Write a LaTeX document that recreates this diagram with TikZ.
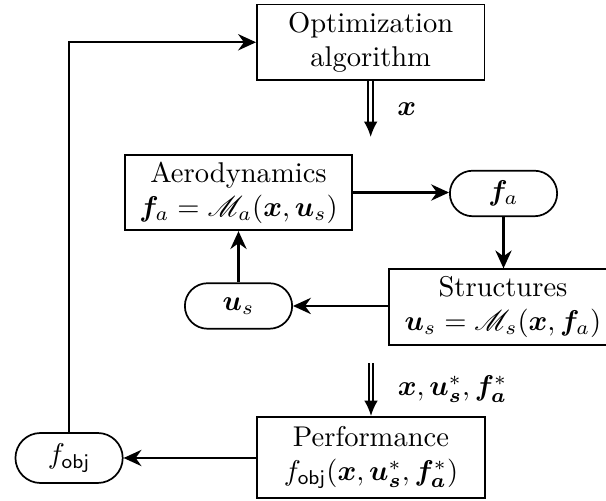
\documentclass[tikz,border=0pt]{standalone}
\usepackage{bm}
\usepackage{mathrsfs}
\usepackage{xcolor}
\usepackage{tikz}
\usetikzlibrary{arrows.meta,positioning,shapes.misc,calc}

\begin{document}
\begin{tikzpicture}[
    arr/.style={-{Stealth[length=2.2mm,width=2mm]}, thick},
    dbl/.style={double, double distance=0.9pt, line width=0.7pt, -{Latex[length=1.9mm,width=1.7mm]}},
    block/.style={draw, semithick, align=center, minimum width=2.8cm, minimum height=0.93cm, inner sep=2pt},
    pill/.style={draw, rounded rectangle, semithick, minimum width=1.39cm, minimum height=0.56cm, inner sep=1pt}
  ]
    \useasboundingbox (0,0) rectangle (7.455,-6.151);

    % Blocks
    \node[block] (opt)    at (4.56,  -0.52) {Optimization\\algorithm};
    \node[block] (aero)   at (2.934, -2.368) {Aerodynamics\\$\bm{f}_a = \mathscr{M}_a(\bm{x},\bm{u}_s)$};
    \node[block] (struct) at (6.188, -3.777) {Structures\\$\bm{u}_s = \mathscr{M}_s(\bm{x},\bm{f}_a)$};
    \node[block, minimum height=1.0cm] (perf) at (4.564, -5.628)
      {Performance\\$f_{\mathsf{obj}}(\bm{x},\bm{u}_{\bm{s}}^*,\bm{f}_{\bm{a}}^*)$};

    % Coupling variables
    \node[pill] (fa)   at (6.194, -2.38)  {$\bm{f}_a$};
    \node[pill] (us)   at (2.934, -3.764) {$\bm{u}_s$};
    \node[pill, minimum height=0.615cm] (fobj) at (0.85, -5.634) {$f_{\mathsf{obj}}$};

    % Free ends of the double arrows
    \coordinate (xin)  at (4.56, -1.685);
    \coordinate (xout) at (4.564, -4.466);

    % Design variables in, converged states out
    \draw[dbl] (opt.south) -- node[right=0.2cm] {$\bm{x}$} (xin);
    \draw[dbl] (xout) -- node[right=0.2cm] {$\bm{x},\bm{u}_{\bm{s}}^*,\bm{f}_{\bm{a}}^*$} (perf.north);

    % Aerostructural loop
    \draw[arr] (aero.east) -- (aero.east -| fa.west);
    \draw[arr] (fa.south) -- (fa.south |- struct.north);
    \draw[arr] (struct.west |- us.east) -- (us.east);
    \draw[arr] (us.north) -- (aero.south);

    % Objective back to optimizer
    \draw[arr] (perf.west |- fobj.east) -- (fobj.east);
    \draw[arr] (fobj.north) |- (opt.west);

  \end{tikzpicture}
\end{document}
